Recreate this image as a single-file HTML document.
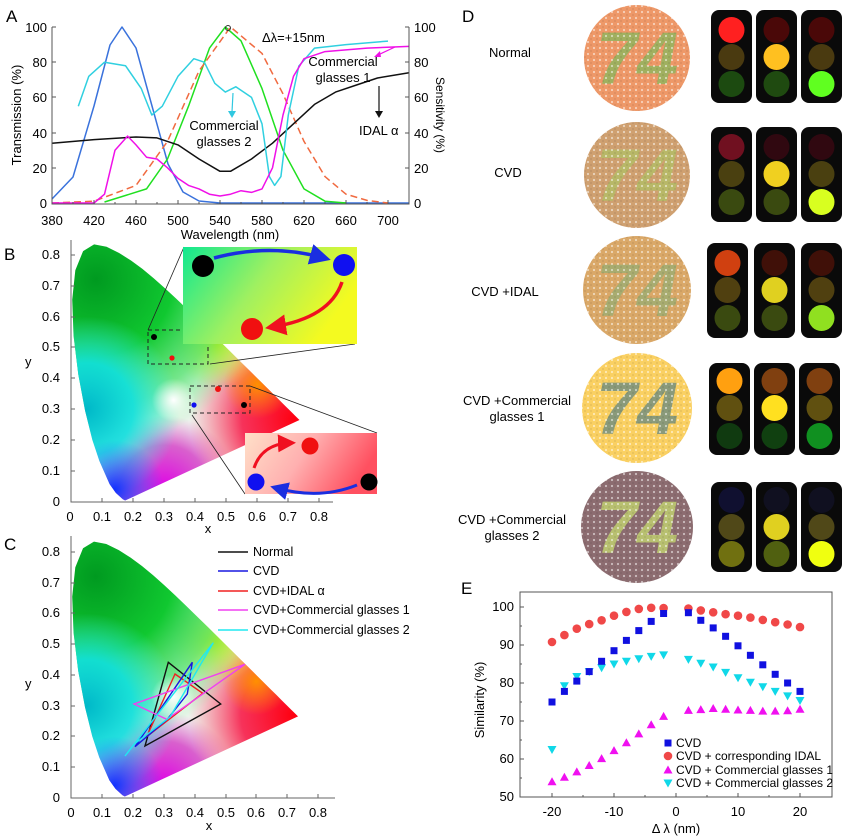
<!DOCTYPE html>
<html><head><meta charset="utf-8"><style>
html,body{margin:0;padding:0;background:#fff}
svg{display:block;font-family:"Liberation Sans",Arial,sans-serif}
</style></head><body>
<svg width="851" height="839" viewBox="0 0 851 839" xmlns="http://www.w3.org/2000/svg">
<defs>
<clipPath id="lc"><path id="locus" d="M0.1741,0.005 L0.1666,0.0089 L0.144,0.0297 L0.1241,0.0578 L0.0913,0.1327 L0.0687,0.2007 L0.0454,0.295 L0.0235,0.4127 L0.0082,0.5384 L0.0039,0.6548 L0.0139,0.7502 L0.0389,0.812 L0.0743,0.8338 L0.1142,0.8262 L0.1547,0.8059 L0.1929,0.7816 L0.2296,0.7543 L0.2658,0.7243 L0.3016,0.6923 L0.3373,0.6589 L0.3731,0.6245 L0.4087,0.5896 L0.4441,0.5547 L0.4788,0.5202 L0.5125,0.4866 L0.5448,0.4544 L0.5752,0.4242 L0.6029,0.3965 L0.627,0.3725 L0.6482,0.3514 L0.6658,0.334 L0.6801,0.3197 L0.6915,0.3083 L0.7006,0.2993 L0.7079,0.292 L0.714,0.2859 L0.719,0.2809 L0.7347,0.2653 Z"/></clipPath>
<radialGradient id="gG" gradientUnits="userSpaceOnUse" cx="0.08" cy="0.72" r="0.55"><stop offset="0" stop-color="#009a20"/><stop offset="0.45" stop-color="#10c830"/><stop offset="0.75" stop-color="#40e060" stop-opacity="0.7"/><stop offset="1" stop-color="#60f080" stop-opacity="0"/></radialGradient>
<radialGradient id="gC" gradientUnits="userSpaceOnUse" cx="0.05" cy="0.3" r="0.3"><stop offset="0" stop-color="#00b8c8"/><stop offset="0.5" stop-color="#10e0e0" stop-opacity="0.9"/><stop offset="1" stop-color="#40f0e8" stop-opacity="0"/></radialGradient>
<radialGradient id="gB" gradientUnits="userSpaceOnUse" cx="0.14" cy="0.04" r="0.16"><stop offset="0" stop-color="#1030ff"/><stop offset="1" stop-color="#3060ff" stop-opacity="0"/></radialGradient>
<radialGradient id="gM" gradientUnits="userSpaceOnUse" cx="0.3" cy="0.04" r="0.24"><stop offset="0" stop-color="#e000e8"/><stop offset="0.6" stop-color="#d020c0" stop-opacity="0.7"/><stop offset="1" stop-color="#e040c0" stop-opacity="0"/></radialGradient>
<radialGradient id="gR" gradientUnits="userSpaceOnUse" cx="0.72" cy="0.27" r="0.34"><stop offset="0" stop-color="#ff0010"/><stop offset="0.5" stop-color="#f81040" stop-opacity="0.85"/><stop offset="1" stop-color="#ff4060" stop-opacity="0"/></radialGradient>
<radialGradient id="gY" gradientUnits="userSpaceOnUse" cx="0.47" cy="0.51" r="0.14"><stop offset="0" stop-color="#f0f000"/><stop offset="1" stop-color="#f0f020" stop-opacity="0"/></radialGradient>
<radialGradient id="gO" gradientUnits="userSpaceOnUse" cx="0.6" cy="0.38" r="0.11"><stop offset="0" stop-color="#ff9000"/><stop offset="1" stop-color="#ff9000" stop-opacity="0"/></radialGradient>
<radialGradient id="gW" gradientUnits="userSpaceOnUse" cx="0.33" cy="0.33" r="0.07"><stop offset="0" stop-color="#ffffff"/><stop offset="1" stop-color="#ffffff" stop-opacity="0"/></radialGradient>
<g id="horse"><g clip-path="url(#lc)">
<rect x="0" y="0" width="0.8" height="0.9" fill="#eef4ee"/>
<rect x="0" y="0" width="0.8" height="0.9" fill="url(#gM)"/>
<rect x="0" y="0" width="0.8" height="0.9" fill="url(#gR)"/>
<rect x="0" y="0" width="0.8" height="0.9" fill="url(#gO)"/>
<rect x="0" y="0" width="0.8" height="0.9" fill="url(#gY)"/>
<rect x="0" y="0" width="0.8" height="0.9" fill="url(#gG)"/>
<rect x="0" y="0" width="0.8" height="0.9" fill="url(#gC)"/>
<rect x="0" y="0" width="0.8" height="0.9" fill="url(#gB)"/>
<rect x="0" y="0" width="0.8" height="0.9" fill="url(#gW)"/>
</g></g>
<linearGradient id="in1" x1="0" y1="0" x2="1" y2="0.4"><stop offset="0" stop-color="#10e890"/><stop offset="0.5" stop-color="#a0f060"/><stop offset="1" stop-color="#f4fa20"/></linearGradient>
<linearGradient id="in2" x1="0" y1="0" x2="1" y2="0.3"><stop offset="0" stop-color="#ffe0c8"/><stop offset="0.5" stop-color="#ffb0b0"/><stop offset="1" stop-color="#ff5060"/></linearGradient>
<pattern id="dots" patternUnits="userSpaceOnUse" width="6" height="6"><circle cx="0" cy="0" r="1.1" fill="#fff" opacity="0.55"/><circle cx="6" cy="0" r="1.1" fill="#fff" opacity="0.55"/><circle cx="0" cy="6" r="1.1" fill="#fff" opacity="0.55"/><circle cx="6" cy="6" r="1.1" fill="#fff" opacity="0.55"/><circle cx="3" cy="3" r="1" fill="#000" opacity="0.08"/></pattern>
<marker id="ab" markerWidth="6" markerHeight="6" refX="4" refY="3" orient="auto"><path d="M0,0 L6,3 L0,6 Z" fill="#1a2ee0"/></marker>
<marker id="ar" markerWidth="6" markerHeight="6" refX="4" refY="3" orient="auto"><path d="M0,0 L6,3 L0,6 Z" fill="#f01020"/></marker>
<rect id="sq" x="-3.5" y="-3.5" width="7" height="7" fill="#1010e0"/>
<circle id="ci" r="4.3" fill="#f04848"/>
<path id="tu" d="M0,-4.5 L4.5,3.5 L-4.5,3.5 Z" fill="#f010f0"/>
<path id="td" d="M0,4.5 L4.5,-3.5 L-4.5,-3.5 Z" fill="#10d8e8"/>
</defs>

<!-- ===== Panel A ===== -->
<g font-size="13">
<text x="6" y="22" font-size="17">A</text>
<g fill="none" stroke-width="1.5" stroke-linejoin="round">
<polyline stroke="#3a72dc" points="52,199 73,177 94,106 110,45 122,27 136,48 152,106 168,164 183,192 199,201 220,203 409,203"/>
<polyline stroke="#20e020" points="104.5,202 146.5,188.9 167.5,159 188.5,106.2 209.5,48.1 225.3,27 241,40.8 262,88.6 283,150.2 304,188.9 325,201.2 346,203"/>
<polyline stroke="#f06a40" stroke-dasharray="7,4" points="52,203 94,201.2 136,185.4 167.5,141.4 199,71 230.5,27 262,53.4 283,93.9 304,141.4 325,176.6 346,194.2 367,200.4 388,203"/>
<polyline stroke="#111" points="52,143.2 94,139.6 136,137 157,137.9 178,144.9 199,159 220,171.3 230.5,171.3 251.5,159 272.5,143.2 293.5,123.8 314.5,104.4 335.5,92.1 356.5,85 377.5,78 409,72.8"/>
<polyline stroke="#30d0e0" points="78.3,106.2 88.8,76.3 104.5,62.2 125.5,65.7 141.3,88.6 151.8,115 162.3,106.2 178,76.3 193.8,58.7 204.3,62.2 214.8,83.3 225.3,92.1 235.8,86.8 251.5,97.4 262,123.8 269.4,176.6 274.6,185.4 280.9,176.6 288.3,115 298.8,66.1 314.5,48.1 346,44.6 388,41.1"/>
<polyline stroke="#f010e8" points="52,203 94,203 104.5,194.2 115,150.2 127.6,136.1 136,144.9 146.5,157.2 157,159 167.5,167.8 178,178.4 188.5,185.4 199,188.9 209.5,194.2 220,196 230.5,194.2 241,190.7 251.5,192.4 262,188.9 272.5,167.8 283,115 293.5,76.3 304,58.7 325,51.6 367,48.1 409,46.4"/>
</g>
<circle cx="228" cy="28" r="2.5" fill="none" stroke="#333"/>
<g stroke="#555" fill="none" stroke-width="1">
<polyline points="52,27 52,204 409,204 409,27"/>
</g>
<g stroke="#555" stroke-width="1">
<path d="M52,27h4M52,62h4M52,97h4M52,133h4M52,168h4M409,27h-4M409,62h-4M409,97h-4M409,133h-4M409,168h-4M94,204v-4M136,204v-4M178,204v-4M220,204v-4M262,204v-4M304,204v-4M346,204v-4M388,204v-4M73,204v-2M115,204v-2M157,204v-2M199,204v-2M241,204v-2M283,204v-2M325,204v-2M367,204v-2"/>
</g>
<g text-anchor="end" font-size="13"><text x="47" y="32">100</text><text x="47" y="67">80</text><text x="47" y="102">60</text><text x="47" y="138">40</text><text x="47" y="173">20</text><text x="47" y="208">0</text></g>
<g font-size="13"><text x="414" y="32">100</text><text x="414" y="67">80</text><text x="414" y="102">60</text><text x="414" y="138">40</text><text x="414" y="173">20</text><text x="414" y="208">0</text></g>
<g text-anchor="middle" font-size="13"><text x="52" y="225">380</text><text x="94" y="225">420</text><text x="136" y="225">460</text><text x="178" y="225">500</text><text x="220" y="225">540</text><text x="262" y="225">580</text><text x="304" y="225">620</text><text x="346" y="225">660</text><text x="388" y="225">700</text>
<text x="230" y="239">Wavelength (nm)</text></g>
<text transform="translate(21,115) rotate(-90)" text-anchor="middle" font-size="13">Transmission (%)</text>
<text transform="translate(436,115) rotate(90)" text-anchor="middle" font-size="12">Sensitivity (%)</text>
<text x="262" y="42" font-size="13">Δλ=+15nm</text>
<text x="343" y="66" text-anchor="middle">Commercial</text><text x="343" y="82" text-anchor="middle">glasses 1</text>
<text x="224" y="130" text-anchor="middle">Commercial</text><text x="224" y="146" text-anchor="middle">glasses 2</text>
<text x="359" y="135">IDAL α</text>
<path d="M395,47 L378,55" stroke="#f010e8" stroke-width="1.2"/><path d="M374,57 L380,51 L381,57Z" fill="#f010e8"/>
<path d="M233,93 L232,112" stroke="#30c8e0" stroke-width="1.2"/><path d="M228,111 L232,118 L236,111Z" fill="#30c8e0"/>
<path d="M379,86 L379,112" stroke="#111" stroke-width="1.2"/><path d="M375,111 L379,118 L383,111Z" fill="#111"/>
</g>

<!-- ===== Panel B ===== -->
<g font-size="13">
<text x="4" y="260" font-size="17">B</text>
<use href="#horse" transform="translate(71,502) scale(311,-309)"/>
<path d="M71,240 V502 H333" fill="none" stroke="#666"/>
<path d="M102,502v-4M133,502v-4M164,502v-4M195,502v-4M226,502v-4M257,502v-4M288,502v-4M319,502v-4M71,471h4M71,440h4M71,409h4M71,378h4M71,347h4M71,317h4M71,286h4M71,255h4" stroke="#666"/>
<g text-anchor="middle"><text x="70" y="521">0</text><text x="102" y="521">0.1</text><text x="133" y="521">0.2</text><text x="164" y="521">0.3</text><text x="195" y="521">0.4</text><text x="226" y="521">0.5</text><text x="257" y="521">0.6</text><text x="288" y="521">0.7</text><text x="319" y="521">0.8</text><text x="208" y="533">x</text></g>
<g text-anchor="end"><text x="60" y="506">0</text><text x="60" y="475">0.1</text><text x="60" y="444">0.2</text><text x="60" y="413">0.3</text><text x="60" y="382">0.4</text><text x="60" y="351">0.5</text><text x="60" y="321">0.6</text><text x="60" y="290">0.7</text><text x="60" y="259">0.8</text></g>
<text x="25" y="366">y</text>
<rect x="148" y="330" width="60" height="34" fill="none" stroke="#222" stroke-dasharray="4,3"/>
<rect x="190" y="386" width="60" height="27" fill="none" stroke="#222" stroke-dasharray="4,3"/>
<path d="M148,330 L184,247 M210,364 L355,344 M250,386 L377,433 M192,415 L245,494" stroke="#222" stroke-width="0.8"/>
<circle cx="154" cy="337" r="3" fill="#000"/><circle cx="202" cy="337" r="3" fill="#1010f0"/><circle cx="172" cy="358" r="2.6" fill="#f01010"/>
<circle cx="218" cy="389" r="3" fill="#f01010"/><circle cx="194" cy="405" r="2.6" fill="#1010f0"/><circle cx="244" cy="405" r="3" fill="#000"/>
<rect x="183" y="247" width="174" height="97" fill="url(#in1)"/>
<circle cx="203" cy="266" r="11" fill="#000"/><circle cx="344" cy="265" r="11" fill="#1010f0"/><circle cx="252" cy="329" r="11" fill="#f01010"/>
<path d="M214,258 Q270,243 324,258" fill="none" stroke="#1a2ee0" stroke-width="3.5" marker-end="url(#ab)"/>
<path d="M342,282 Q330,318 272,327" fill="none" stroke="#f01020" stroke-width="3.5" marker-end="url(#ar)"/>
<rect x="245" y="433" width="132" height="61" fill="url(#in2)"/>
<circle cx="310" cy="446" r="8.5" fill="#f01010"/><circle cx="256" cy="482" r="8.5" fill="#1010f0"/><circle cx="369" cy="482" r="8.5" fill="#000"/>
<path d="M254,468 Q262,444 290,443" fill="none" stroke="#f01020" stroke-width="3" marker-end="url(#ar)"/>
<path d="M357,485 Q320,500 276,488" fill="none" stroke="#1a2ee0" stroke-width="3" marker-end="url(#ab)"/>
</g>

<!-- ===== Panel C ===== -->
<g font-size="13">
<text x="4" y="550" font-size="17">C</text>
<use href="#horse" transform="translate(71,798) scale(309,-307.5)"/>
<path d="M71,536 V798 H335" fill="none" stroke="#666"/>
<path d="M102,798v-4M133,798v-4M164,798v-4M195,798v-4M226,798v-4M256,798v-4M287,798v-4M318,798v-4M71,767h4M71,736h4M71,706h4M71,675h4M71,644h4M71,613h4M71,583h4M71,552h4" stroke="#666"/>
<g text-anchor="middle"><text x="71" y="817">0</text><text x="102" y="817">0.1</text><text x="133" y="817">0.2</text><text x="164" y="817">0.3</text><text x="195" y="817">0.4</text><text x="226" y="817">0.5</text><text x="256" y="817">0.6</text><text x="287" y="817">0.7</text><text x="318" y="817">0.8</text><text x="209" y="830">x</text></g>
<g text-anchor="end"><text x="60" y="802">0</text><text x="60" y="771">0.1</text><text x="60" y="740">0.2</text><text x="60" y="710">0.3</text><text x="60" y="679">0.4</text><text x="60" y="648">0.5</text><text x="60" y="617">0.6</text><text x="60" y="587">0.7</text><text x="60" y="556">0.8</text></g>
<text x="25" y="688">y</text>
<g fill="none" stroke-width="1.4" stroke-linejoin="miter">
<polygon stroke="#111" points="168.3,662.3 220.7,704 145,746"/>
<polygon stroke="#f02020" points="175,674 202.7,693.3 146.7,736.7"/>
<polygon stroke="#1818e0" points="192.3,662.3 187.3,694 167.3,719.3 135,746.7"/>
<polygon stroke="#f040f0" points="245,664.3 134,704 166.7,719.3"/>
<polyline stroke="#20e8f0" points="125,756 213.3,642.7 170,717 133,745"/>
</g>
<g stroke-width="1.5"><path d="M218,552h30" stroke="#111"/><path d="M218,571h30" stroke="#1818e0"/><path d="M218,591h30" stroke="#f02020"/><path d="M218,610h30" stroke="#f040f0"/><path d="M218,630h30" stroke="#20e8f0"/></g>
<g font-size="12.5"><text x="253" y="556">Normal</text><text x="253" y="575">CVD</text><text x="253" y="595">CVD+IDAL α</text><text x="253" y="614">CVD+Commercial glasses 1</text><text x="253" y="634">CVD+Commercial glasses 2</text></g>
</g>

<!-- ===== Panel D ===== -->
<g font-size="13">
<text x="462" y="22" font-size="17">D</text>
<text x="510" y="57" text-anchor="middle">Normal</text>
<text x="508" y="177" text-anchor="middle">CVD</text>
<text x="505" y="296" text-anchor="middle">CVD +IDAL</text>
<text x="517" y="405" text-anchor="middle">CVD +Commercial</text><text x="517" y="421" text-anchor="middle">glasses 1</text>
<text x="512" y="524" text-anchor="middle">CVD +Commercial</text><text x="512" y="540" text-anchor="middle">glasses 2</text>
<g font-family="Liberation Sans" font-weight="bold" font-style="italic" font-size="74" text-anchor="middle">
<circle cx="637" cy="58" r="53" fill="#ee9868"/><text x="637" y="84" fill="#a0b060">74</text><circle cx="637" cy="58" r="53" fill="url(#dots)"/>
<circle cx="637" cy="175" r="53" fill="#cfa070"/><text x="637" y="201" fill="#b8b868">74</text><circle cx="637" cy="175" r="53" fill="url(#dots)"/>
<circle cx="637" cy="290" r="54" fill="#daa868"/><text x="637" y="316" fill="#a8ac70">74</text><circle cx="637" cy="290" r="54" fill="url(#dots)"/>
<circle cx="637" cy="408" r="55" fill="#fad062"/><text x="637" y="434" fill="#8a9a7a">74</text><circle cx="637" cy="408" r="55" fill="url(#dots)"/>
<circle cx="637" cy="527" r="56" fill="#8c6c70"/><text x="637" y="553" fill="#b8c070">74</text><circle cx="637" cy="527" r="56" fill="url(#dots)"/>
</g>
<g>
<g transform="translate(0,10)">
<rect x="711" y="0" width="41" height="93" rx="8" fill="#0a0a0a"/><rect x="756" y="0" width="41" height="93" rx="8" fill="#0a0a0a"/><rect x="801" y="0" width="41" height="93" rx="8" fill="#0a0a0a"/>
<circle cx="731.5" cy="20" r="13" fill="#ff2020"/><circle cx="731.5" cy="47" r="13" fill="#4a3a10"/><circle cx="731.5" cy="74" r="13" fill="#1c4a10"/>
<circle cx="776.5" cy="20" r="13" fill="#4a0808"/><circle cx="776.5" cy="47" r="13" fill="#ffc020"/><circle cx="776.5" cy="74" r="13" fill="#1f4a10"/>
<circle cx="821.5" cy="20" r="13" fill="#4a0808"/><circle cx="821.5" cy="47" r="13" fill="#4a3a10"/><circle cx="821.5" cy="74" r="13" fill="#60ff20"/>
</g>
<g transform="translate(0,127)">
<rect x="711" y="0" width="41" height="95" rx="8" fill="#0a0a0a"/><rect x="756" y="0" width="41" height="95" rx="8" fill="#0a0a0a"/><rect x="801" y="0" width="41" height="95" rx="8" fill="#0a0a0a"/>
<circle cx="731.5" cy="20" r="13" fill="#701020"/><circle cx="731.5" cy="47" r="13" fill="#4a4010"/><circle cx="731.5" cy="75" r="13" fill="#3a4a10"/>
<circle cx="776.5" cy="20" r="13" fill="#300810"/><circle cx="776.5" cy="47" r="13" fill="#f0d020"/><circle cx="776.5" cy="75" r="13" fill="#3a4a10"/>
<circle cx="821.5" cy="20" r="13" fill="#300810"/><circle cx="821.5" cy="47" r="13" fill="#4a4010"/><circle cx="821.5" cy="75" r="13" fill="#d8ff20"/>
</g>
<g transform="translate(0,243)">
<rect x="707" y="0" width="41" height="95" rx="8" fill="#0a0a0a"/><rect x="754" y="0" width="41" height="95" rx="8" fill="#0a0a0a"/><rect x="801" y="0" width="41" height="95" rx="8" fill="#0a0a0a"/>
<circle cx="727.5" cy="20" r="13" fill="#d04010"/><circle cx="727.5" cy="47" r="13" fill="#504010"/><circle cx="727.5" cy="75" r="13" fill="#3a4a10"/>
<circle cx="774.5" cy="20" r="13" fill="#401008"/><circle cx="774.5" cy="47" r="13" fill="#e0d020"/><circle cx="774.5" cy="75" r="13" fill="#3a4a10"/>
<circle cx="821.5" cy="20" r="13" fill="#401008"/><circle cx="821.5" cy="47" r="13" fill="#504010"/><circle cx="821.5" cy="75" r="13" fill="#90e020"/>
</g>
<g transform="translate(0,363)">
<rect x="709" y="0" width="41" height="92" rx="8" fill="#0a0a0a"/><rect x="754" y="0" width="41" height="92" rx="8" fill="#0a0a0a"/><rect x="799" y="0" width="41" height="92" rx="8" fill="#0a0a0a"/>
<circle cx="729.5" cy="18" r="13" fill="#ffa010"/><circle cx="729.5" cy="45" r="13" fill="#605010"/><circle cx="729.5" cy="73" r="13" fill="#103a10"/>
<circle cx="774.5" cy="18" r="13" fill="#804010"/><circle cx="774.5" cy="45" r="13" fill="#ffe020"/><circle cx="774.5" cy="73" r="13" fill="#104010"/>
<circle cx="819.5" cy="18" r="13" fill="#804010"/><circle cx="819.5" cy="45" r="13" fill="#605010"/><circle cx="819.5" cy="73" r="13" fill="#109020"/>
</g>
<g transform="translate(0,482)">
<rect x="711" y="0" width="41" height="90" rx="8" fill="#0a0a0a"/><rect x="756" y="0" width="41" height="90" rx="8" fill="#0a0a0a"/><rect x="801" y="0" width="41" height="90" rx="8" fill="#0a0a0a"/>
<circle cx="731.5" cy="18" r="13" fill="#101030"/><circle cx="731.5" cy="45" r="13" fill="#504818"/><circle cx="731.5" cy="72" r="13" fill="#707010"/>
<circle cx="776.5" cy="18" r="13" fill="#101020"/><circle cx="776.5" cy="45" r="13" fill="#e0d020"/><circle cx="776.5" cy="72" r="13" fill="#506010"/>
<circle cx="821.5" cy="18" r="13" fill="#101020"/><circle cx="821.5" cy="45" r="13" fill="#504818"/><circle cx="821.5" cy="72" r="13" fill="#f0ff10"/>
</g>
</g>
</g>

<!-- ===== Panel E ===== -->
<g font-size="13">
<text x="461" y="594" font-size="17">E</text>
<rect x="520" y="592" width="312" height="205" fill="none" stroke="#555"/>
<path d="M520,607h4M520,645h4M520,683h4M520,721h4M520,759h4M520,626h2M520,664h2M520,702h2M520,740h2M520,778h2M552,797v-4M614,797v-4M676,797v-4M738,797v-4M800,797v-4M583,797v-2M645,797v-2M707,797v-2M769,797v-2" stroke="#555"/>
<g text-anchor="end"><text x="514" y="611">100</text><text x="514" y="649">90</text><text x="514" y="687">80</text><text x="514" y="725">70</text><text x="514" y="763">60</text><text x="514" y="801">50</text></g>
<g text-anchor="middle"><text x="552" y="816">-20</text><text x="614" y="816">-10</text><text x="676" y="816">0</text><text x="738" y="816">10</text><text x="800" y="816">20</text><text x="676" y="833">Δ λ (nm)</text></g>
<text transform="translate(484,700) rotate(-90)" text-anchor="middle">Similarity (%)</text>
<g>
<use href="#ci" x="552" y="642"/><use href="#ci" x="564.4" y="635.1"/><use href="#ci" x="576.8" y="628.7"/><use href="#ci" x="589.2" y="624.1"/><use href="#ci" x="601.6" y="620.3"/><use href="#ci" x="614" y="615.7"/><use href="#ci" x="626.4" y="611.9"/><use href="#ci" x="638.8" y="608.9"/><use href="#ci" x="651.2" y="607.8"/><use href="#ci" x="663.6" y="608.1"/><use href="#ci" x="688.4" y="608.5"/><use href="#ci" x="700.8" y="610.4"/><use href="#ci" x="713.2" y="612.3"/><use href="#ci" x="725.6" y="614.2"/><use href="#ci" x="738" y="615.7"/><use href="#ci" x="750.4" y="617.6"/><use href="#ci" x="762.8" y="619.9"/><use href="#ci" x="775.2" y="622.2"/><use href="#ci" x="787.6" y="624.5"/><use href="#ci" x="800" y="627.1"/>
<use href="#td" x="552" y="749.5"/><use href="#td" x="564.4" y="685.7"/><use href="#td" x="576.8" y="676.5"/><use href="#td" x="589.2" y="671.6"/><use href="#td" x="601.6" y="667.8"/><use href="#td" x="614" y="664"/><use href="#td" x="626.4" y="661.3"/><use href="#td" x="638.8" y="658.7"/><use href="#td" x="651.2" y="656.4"/><use href="#td" x="663.6" y="654.9"/><use href="#td" x="688.4" y="659.4"/><use href="#td" x="700.8" y="663.2"/><use href="#td" x="713.2" y="667"/><use href="#td" x="725.6" y="672.4"/><use href="#td" x="738" y="677.7"/><use href="#td" x="750.4" y="682.2"/><use href="#td" x="762.8" y="686.8"/><use href="#td" x="775.2" y="691.4"/><use href="#td" x="787.6" y="695.9"/><use href="#td" x="800" y="700.5"/>
<use href="#sq" x="552" y="702"/><use href="#sq" x="564.4" y="691.4"/><use href="#sq" x="576.8" y="681.1"/><use href="#sq" x="589.2" y="671.6"/><use href="#sq" x="601.6" y="661.3"/><use href="#sq" x="614" y="650.7"/><use href="#sq" x="626.4" y="640.4"/><use href="#sq" x="638.8" y="630.6"/><use href="#sq" x="651.2" y="621.4"/><use href="#sq" x="663.6" y="613.5"/><use href="#sq" x="688.4" y="612.7"/><use href="#sq" x="700.8" y="620.3"/><use href="#sq" x="713.2" y="627.9"/><use href="#sq" x="725.6" y="636.3"/><use href="#sq" x="738" y="645.8"/><use href="#sq" x="750.4" y="655.3"/><use href="#sq" x="762.8" y="664.8"/><use href="#sq" x="775.2" y="674.3"/><use href="#sq" x="787.6" y="683"/><use href="#sq" x="800" y="691.4"/>
<use href="#tu" x="552" y="781.8"/><use href="#tu" x="564.4" y="777.2"/><use href="#tu" x="576.8" y="771.9"/><use href="#tu" x="589.2" y="765.5"/><use href="#tu" x="601.6" y="758.6"/><use href="#tu" x="614" y="750.6"/><use href="#tu" x="626.4" y="742.7"/><use href="#tu" x="638.8" y="733.9"/><use href="#tu" x="651.2" y="724.8"/><use href="#tu" x="663.6" y="716.4"/><use href="#tu" x="688.4" y="710.4"/><use href="#tu" x="700.8" y="709.6"/><use href="#tu" x="713.2" y="708.5"/><use href="#tu" x="725.6" y="709.2"/><use href="#tu" x="738" y="710"/><use href="#tu" x="750.4" y="710.4"/><use href="#tu" x="762.8" y="711.1"/><use href="#tu" x="775.2" y="711.1"/><use href="#tu" x="787.6" y="710.7"/><use href="#tu" x="800" y="709.2"/>
</g>
<use href="#sq" x="668" y="743"/><use href="#ci" x="668" y="756"/><use href="#tu" x="668" y="770"/><use href="#td" x="668" y="783"/>
<g font-size="12"><text x="676" y="747">CVD</text><text x="676" y="760">CVD + corresponding IDAL</text><text x="676" y="774">CVD + Commercial glasses 1</text><text x="676" y="787">CVD + Commercial glasses 2</text></g>
</g>
</svg>
</body></html>
